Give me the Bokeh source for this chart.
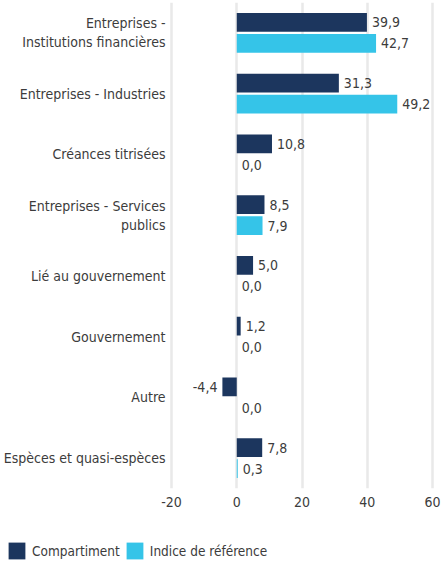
from bokeh.plotting import figure
from bokeh.layouts import column
from bokeh.models import (ColumnDataSource, FactorRange, Range1d, FixedTicker,
                          Legend, LegendItem)
from bokeh.transform import dodge
from bokeh.core.properties import value
from bokeh.embed import file_html
from bokeh.resources import INLINE

categories = ["Entreprises - Institutions financières", "Entreprises - Industries",
              "Créances titrisées", "Entreprises - Services publics",
              "Lié au gouvernement", "Gouvernement", "Autre",
              "Espèces et quasi-espèces"]
category_labels = ["Entreprises -\nInstitutions financières", "Entreprises - Industries",
                   "Créances titrisées", "Entreprises - Services\npublics",
                   "Lié au gouvernement", "Gouvernement", "Autre",
                   "Espèces et quasi-espèces"]
fund = [39.9, 31.3, 10.8, 8.5, 5.0, 1.2, -4.4, 7.8]
bench = [42.7, 49.2, 0.0, 7.9, 0.0, 0.0, 0.0, 0.3]
series_names = ["Compartiment", "Indice de référence"]
x_ticks = [-20, 0, 20, 40, 60]
x_tick_labels = ["-20", "0", "20", "40", "60"]

DARK = "#1c365e"
LIGHT = "#35c4e8"
TXT = "#3c3c3c"
FONT = "DejaVu Sans Condensed"
FS = "14px"

# layout: frame spans the full width; data scale -20..60 over pixels 171..432
W = 441
PLOT_LEFT_PX, PLOT_RIGHT_PX = 171, 432
ppu = (PLOT_RIGHT_PX - PLOT_LEFT_PX) / (x_ticks[-1] - x_ticks[0])
x_start = x_ticks[0] - PLOT_LEFT_PX / ppu
x_end = x_ticks[-1] + (W - PLOT_RIGHT_PX) / ppu


def fmt(v):
    return f"{v:.1f}".replace(".", ",")


src = ColumnDataSource(dict(
    cat=categories,
    cat_lbl=category_labels,
    lbl_x=[x_ticks[0]] * len(categories),
    fund=fund,
    bench=bench,
    fund_lbl=[fmt(v) for v in fund],
    bench_lbl=[fmt(v) for v in bench],
    fund_align=["right" if v < 0 else "left" for v in fund],
    fund_off=[-5 if v < 0 else 5 for v in fund],
))

p = figure(width=W, height=530, output_backend="svg", toolbar_location=None,
           y_range=FactorRange(*reversed(categories)),
           x_range=Range1d(x_start, x_end), y_axis_location=None,
           min_border_left=0, min_border_right=0, min_border_top=2,
           min_border_bottom=42)
p.outline_line_color = None
p.background_fill_color = "white"
p.border_fill_color = "white"

OFF = 0.172
H = 0.31
r1 = p.hbar(y=dodge("cat", OFF, range=p.y_range), left=0, right="fund", height=H,
            source=src, color=DARK, line_color=None)
r2 = p.hbar(y=dodge("cat", -OFF, range=p.y_range), left=0, right="bench", height=H,
            source=src, color=LIGHT, line_color=None)

p.text(x="fund", y=dodge("cat", OFF, range=p.y_range), text="fund_lbl", source=src,
       x_offset="fund_off", text_align="fund_align", text_baseline="middle",
       text_font=value(FONT), text_font_size=FS, text_color=TXT)
p.text(x="bench", y=dodge("cat", -OFF, range=p.y_range), text="bench_lbl", source=src,
       x_offset=5, text_align="left", text_baseline="middle",
       text_font=value(FONT), text_font_size=FS, text_color=TXT)

# category labels (multi-line) to the left of the value area
p.text(x="lbl_x", y="cat", text="cat_lbl", source=src, x_offset=-6,
       text_align="right", text_baseline="middle", text_line_height=1.2,
       text_font=value(FONT), text_font_size=FS, text_color=TXT)

p.xaxis.ticker = FixedTicker(ticks=x_ticks)
p.xaxis.major_label_overrides = dict(zip(x_ticks, x_tick_labels))
p.xaxis.axis_line_color = None
p.xaxis.major_tick_line_color = None
p.xaxis.minor_tick_line_color = None
p.xaxis.major_label_text_font = FONT
p.xaxis.major_label_text_font_size = FS
p.xaxis.major_label_text_color = TXT
p.xaxis.major_label_standoff = 2

p.ygrid.grid_line_color = None
p.xgrid.grid_line_color = "#e9e9e9"
p.xgrid.grid_line_width = 2.5

# legend row (key swatches use zero-width proxy bars so only the legend shows)
p2 = figure(width=W, height=31, output_backend="svg", toolbar_location=None,
            x_range=Range1d(0, 1), y_range=Range1d(0, 1),
            x_axis_location=None, y_axis_location=None,
            min_border_left=0, min_border_right=0, min_border_top=0,
            min_border_bottom=0)
p2.outline_line_color = None
p2.xgrid.grid_line_color = None
p2.ygrid.grid_line_color = None
key_src = ColumnDataSource(dict(y=[0.5], left=[0], right=[0]))
k1 = p2.hbar(y="y", left="left", right="right", height=0.5, source=key_src,
             fill_color=DARK, line_color=None)
k2 = p2.hbar(y="y", left="left", right="right", height=0.5, source=key_src,
             fill_color=LIGHT, line_color=None)
legend = Legend(items=[LegendItem(label=series_names[0], renderers=[k1]),
                       LegendItem(label=series_names[1], renderers=[k2])],
                orientation="horizontal", location=(6, 0))
legend.border_line_color = None
legend.background_fill_alpha = 0
legend.glyph_width = 21
legend.glyph_height = 21
legend.label_standoff = 5
legend.spacing = 4
legend.padding = 0
legend.margin = 0
legend.label_text_font = FONT
legend.label_text_font_size = "13.5px"
legend.label_text_color = TXT
legend.label_height = 21
legend.label_text_baseline = "middle"
p2.add_layout(legend, "center")

layout = column(p, p2, spacing=0)
open("out.html", "w").write(file_html(layout, INLINE))
